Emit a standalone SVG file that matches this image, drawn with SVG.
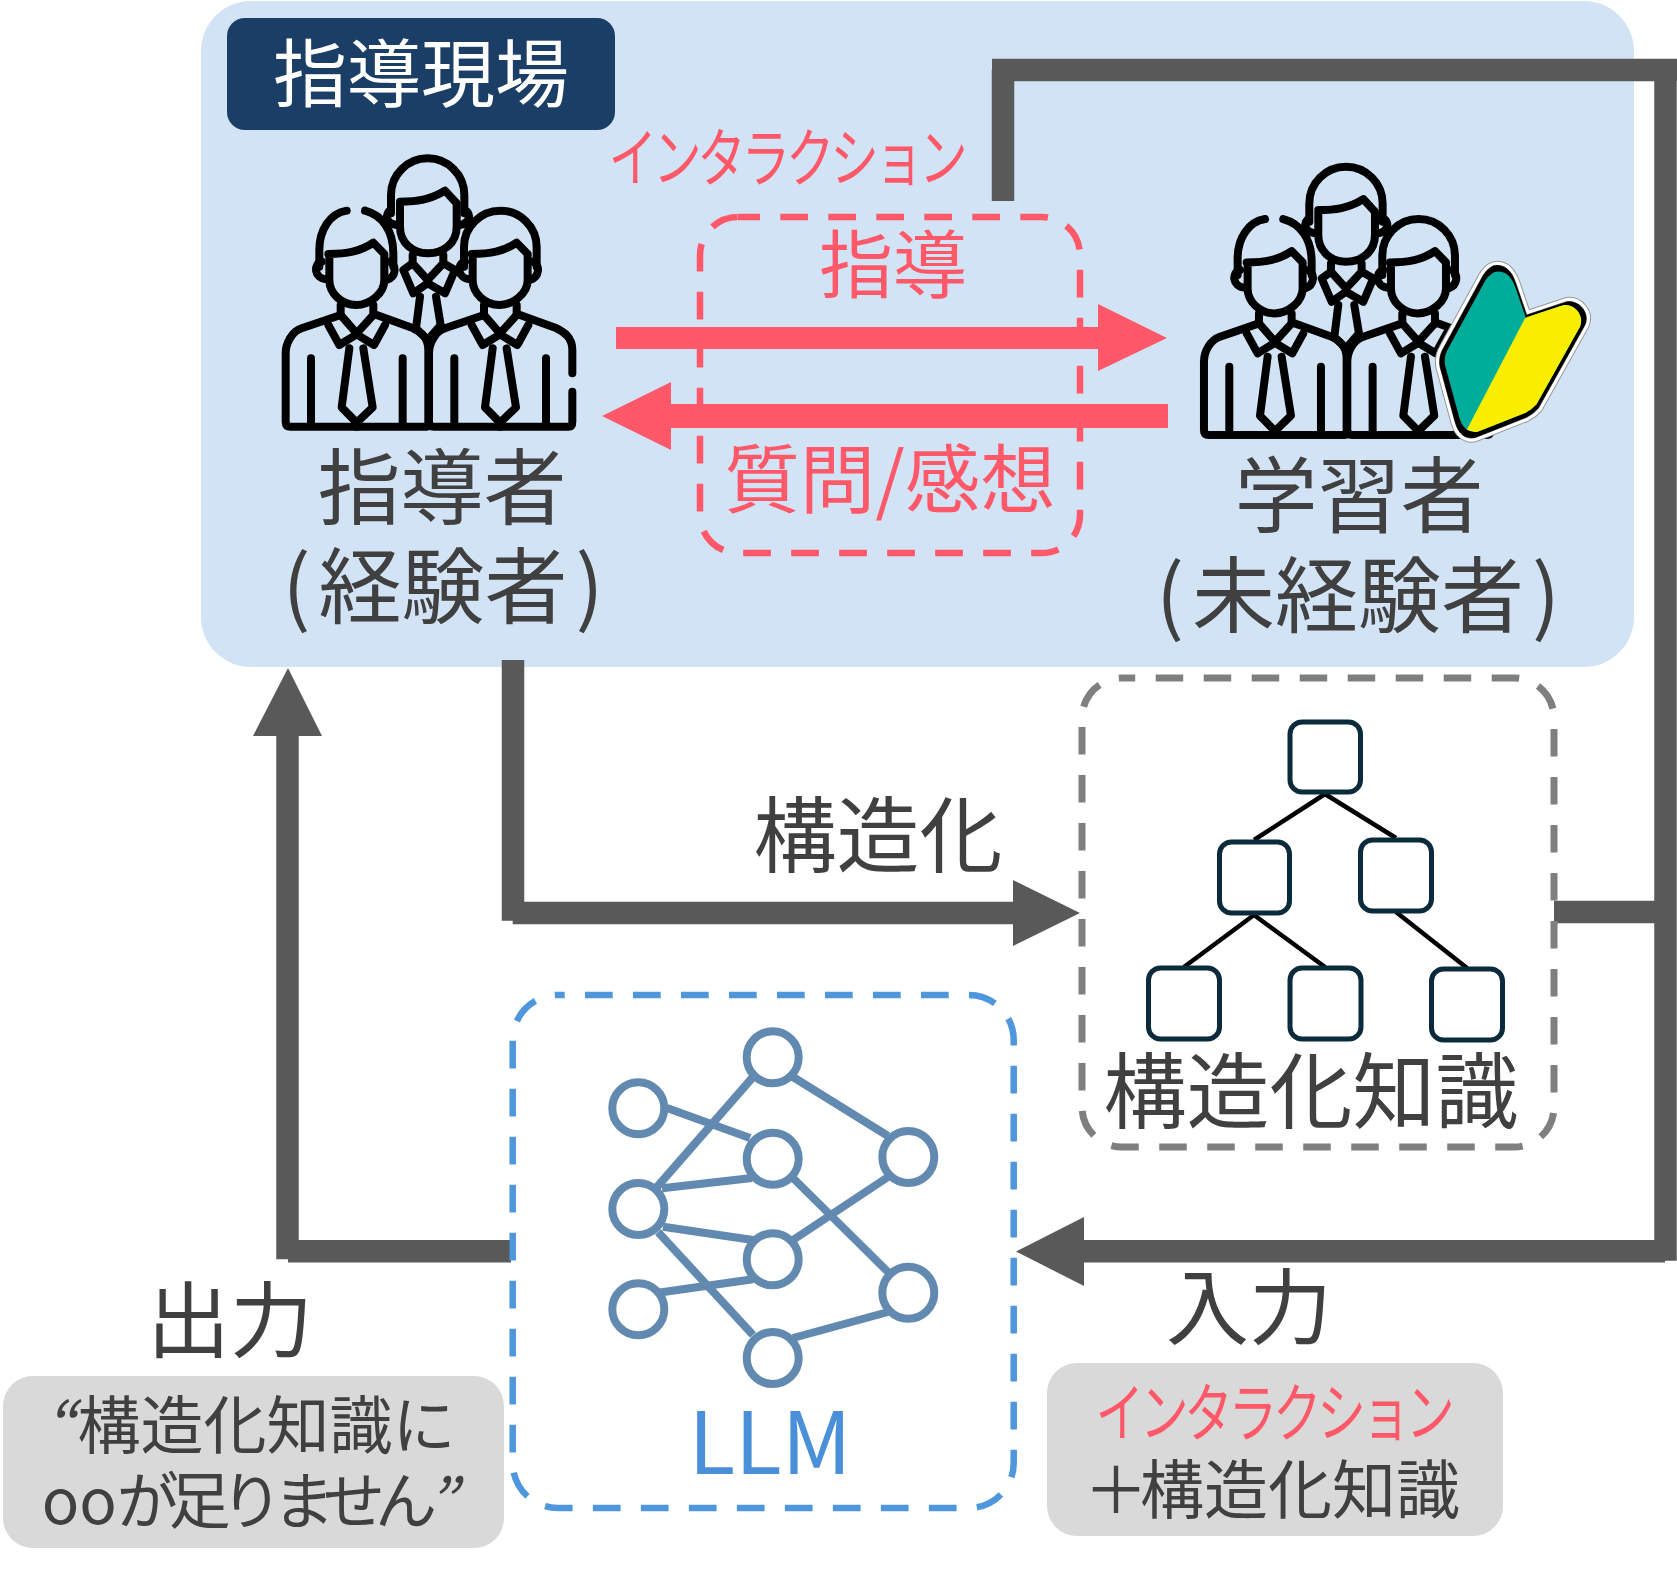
<svg xmlns="http://www.w3.org/2000/svg" width="1677" height="1581" viewBox="0 0 1677 1581">
<style>
text{font-family:"Noto Sans CJK JP","Noto Sans",sans-serif;text-anchor:middle;fill:#404040}
.t83{font-size:83px}
.conn{fill:none;stroke:#595959;stroke-width:22.500}
.head{fill:#595959;stroke:none}
.pa{fill:#ff5969;stroke:none}
.tb{fill:#fff;stroke:#0b2a3c;stroke-width:5}
.tl{stroke:#000;stroke-width:4.500;fill:none}
.ne{stroke:#6289af;stroke-width:8;fill:none}
.nc{stroke:#6289af;stroke-width:8;fill:#fff}
.ic{fill:none;stroke:#000;stroke-width:24;stroke-linecap:round;stroke-linejoin:round}
.ka{font-size:64px;fill:#ff5969;letter-spacing:-5.600px}
</style>
<defs>
<g id="man">
<path d="M385 762C440 762 480 755 520 728L553 762V840C553 880 510 915 468 915C425 915 388 880 388 840V762"/>
<path d="M365 785C340 790 340 835 380 838M570 785C590 795 590 830 560 840"/>
<path d="M422 915V945L305 985C275 995 257 1030 257 1060V1265Q257 1280 272 1280H470M520 915V945"/>
<path d="M422 945L470 1000L520 945M385 975L418 1035L470 1003L522 1035L555 975"/>
<path d="M333 1075V1270M448 1045L425 1222L470 1268L518 1222L490 1045"/>
</g>
<g id="team" class="ic">
<path d="M573 640V585A110 110 0 0 1 793 585V640"/>
<path d="M600 605C650 605 690 600 735 572L770 610V680C770 730 730 760 683 760C640 760 600 730 600 680V605"/>
<path d="M572 630C555 640 555 670 590 675M795 630C815 640 810 670 780 675"/>
<path d="M638 765V790L610 810L640 880L683 850L735 880L765 810L730 790V765M638 790L683 840L730 790"/>
<path d="M660 890L648 985M708 890L722 975M648 985L683 1020L722 975"/>
<path d="M440 632C390 640 358 690 358 750V800M495 632C545 645 580 690 580 760V800"/>
<use href="#man"/>
<path d="M470 1280H680Q685 1280 685 1265V1050C685 1010 660 995 640 985L530 945M608 1075V1270"/>
<path d="M792 800V741A109 109 0 0 1 1010 741V800"/>
<use href="#man" transform="translate(430 0)"/>
<path d="M900 1280H1105Q1117 1280 1117 1265V1175M1117 1120V1050C1117 1010 1090 995 1070 985L960 945M1038 1075V1270"/>
</g>
<path id="leafshape" d="M1040 376C1072 376 1087 400 1097 428L1130 525L1250 485C1290 480 1320 520 1305 555L1165 805Q1150 822 1130 832L975 893C950 898 925 885 915 845L870 680Q865 650 880 625L1000 405Q1020 376 1040 376Z"/>
<clipPath id="leafclip"><use href="#leafshape"/></clipPath>
<clipPath id="learnerclip"><polygon points="1190,150 1600,150 1600,400 1475,445 1190,445"/></clipPath>
</defs>

<g id="panel"><rect x="201" y="1" width="1433" height="666" rx="50" fill="#d2e3f6"/></g>

<g id="title">
<rect x="227" y="18" width="388" height="112" rx="18" fill="#1a3e66"/>
<text x="421" y="101" style="font-size:74px;fill:#fff">指導現場</text>
</g>

<g id="interaction">
<rect x="700" y="217" width="380" height="336" rx="38" fill="none" stroke="#ff5969" stroke-width="6.500" stroke-dasharray="27.700 20.300" stroke-dashoffset="5.700"/>
<text transform="translate(786 181) scale(.76 1)" class="ka">インタラクション</text>
<text x="893" y="292" style="font-size:74px;fill:#ff5969">指導</text>
<text x="890" y="507" style="font-size:75.500px;fill:#ff5969">質問/感想</text>
<polygon class="pa" points="616,327 1098,327 1098,304 1167,338 1098,371 1098,349 616,349"/>
<polygon class="pa" points="1168,404 671,404 671,382 602,416 671,450 671,428 1168,428"/>
</g>

<g id="mentor">
<use href="#team" transform="translate(200 0) scale(.33333)"/>
<text x="442" y="518" class="t83">指導者</text>
<text x="443" y="617" class="t83">(<tspan dx="8">経験者</tspan><tspan dx="8">)</tspan></text>
</g>

<g id="learner">
<g clip-path="url(#learnerclip)"><use href="#team" transform="translate(1118.300 8.400) scale(.33333)"/></g>
<g transform="translate(1150 140) scale(.33333)">
<use href="#leafshape" fill="#000" stroke="#999" stroke-width="28" stroke-linejoin="round"/>
<use href="#leafshape" fill="#000" stroke="#fff" stroke-width="22" stroke-linejoin="round"/>
<use href="#leafshape" fill="#000" stroke="#000" stroke-width="2"/>
<g transform="translate(1090 635) scale(.93) translate(-1090 -635)">
<use href="#leafshape" fill="#00ad9a"/>
<polygon clip-path="url(#leafclip)" points="1127.600,527.500 1400,400 1400,1000 939.500,887.700" fill="#f9ee00"/>
</g>
</g>
<text x="1359" y="526" class="t83">学習者</text>
<text x="1358" y="626" class="t83">(<tspan dx="8">未経験者</tspan><tspan dx="8">)</tspan></text>
</g>

<g id="connectors">
<path class="conn" d="M513 660V920.700M512.700 913H1013"/>
<polygon class="head" points="1013,880 1080,913 1013,946"/>
<path class="conn" d="M1003 201V70M992 70H1677M1665.500 59V1260.700"/>
<path class="conn" d="M1554 912H1666"/>
<path class="conn" d="M1665 1251.300H1084"/>
<polygon class="head" points="1084,1217 1016,1251.500 1084,1286"/>
<path class="conn" d="M511 1251.300H288M287.500 1259.300V736"/>
<polygon class="head" points="253,736 288,668 322,736"/>
</g>

<g id="structure-label"><text x="878" y="866" class="t83">構造化</text></g>

<g id="knowledge">
<rect x="1082" y="678" width="472" height="469" rx="40" fill="none" stroke="#7f7f7f" stroke-width="7" stroke-dasharray="27.500 20.500" stroke-dashoffset="14.300"/>
<path class="tl" d="M1325 794L1254 840M1325 794L1396 838M1254 915L1184 967M1254 915L1325 967M1396 912L1467 968"/>
<rect class="tb" x="1290" y="722" width="70.500" height="70" rx="12"/>
<rect class="tb" x="1219.500" y="842" width="70" height="71" rx="12"/>
<rect class="tb" x="1360.500" y="840" width="71" height="71" rx="12"/>
<rect class="tb" x="1148.500" y="968" width="71" height="71" rx="12"/>
<rect class="tb" x="1290" y="968" width="71" height="71" rx="12"/>
<rect class="tb" x="1431.500" y="969" width="71" height="71" rx="12"/>
<text x="1311" y="1122" class="t83">構造化知識</text>
</g>

<g id="llm">
<rect x="512.700" y="995" width="501" height="513" rx="45" fill="none" stroke="#4f97dd" stroke-width="6.500" stroke-dasharray="27.700 20.300" stroke-dashoffset="20.700"/>
<path class="ne" d="M657 1187L753 1077M793 1077L888 1136M667 1108L750 1138M662 1188.300L752 1178M663 1226.700L753 1240M658 1292.700L753 1279.300M658 1232L753 1335M793 1178L888 1272M793 1240L888 1177M793 1338L888 1312"/>
<circle class="nc" cx="772.700" cy="1057.300" r="26"/>
<circle class="nc" cx="638.300" cy="1108.300" r="26"/>
<circle class="nc" cx="772.700" cy="1158.700" r="26"/>
<circle class="nc" cx="908.300" cy="1157" r="26"/>
<circle class="nc" cx="638.300" cy="1209" r="26"/>
<circle class="nc" cx="772.700" cy="1259.300" r="26"/>
<circle class="nc" cx="908.300" cy="1292.700" r="26"/>
<circle class="nc" cx="638.300" cy="1309.300" r="26"/>
<circle class="nc" cx="772.700" cy="1358" r="26"/>
<text x="770" y="1474" style="font-size:86px;fill:#4a90d9">LLM</text>
</g>

<g id="output-label"><text x="230" y="1351" class="t83">出力</text></g>
<g id="input-label"><text x="1249" y="1338" class="t83">入力</text></g>

<g id="output-box">
<rect x="3" y="1376" width="501" height="172" rx="30" fill="#d9d9d9"/>
<text x="250" y="1448" style="font-size:63px"><tspan style="font-style:italic">“</tspan><tspan dx="3">構造化知識に</tspan></text>
<text x="244" y="1524" style="font-size:62px;letter-spacing:-10px"><tspan style="letter-spacing:0">oo</tspan>が足りません<tspan style="font-style:italic">”</tspan></text>
</g>

<g id="input-box">
<rect x="1047" y="1363" width="456" height="173" rx="30" fill="#d9d9d9"/>
<text transform="translate(1273 1436) scale(.76 1)" class="ka">インタラクション</text>
<text x="1272" y="1513" style="font-size:64px">＋<tspan dx="-8">構造化知識</tspan></text>
</g>
</svg>
